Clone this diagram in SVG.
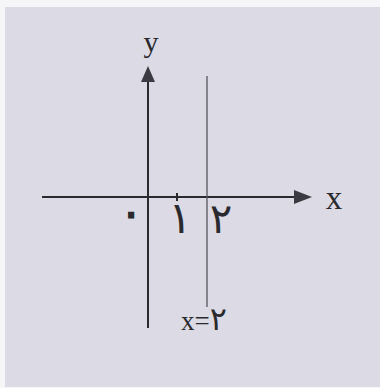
<svg xmlns="http://www.w3.org/2000/svg" width="380" height="388" viewBox="0 0 380 388">
<style>
.ax{stroke:#2a2a2e;stroke-width:2;fill:none}
.ln{stroke:#55555c;stroke-width:1.3;fill:none}
.t{font-family:"Liberation Serif","DejaVu Serif",serif;fill:#2a2a2e}
.ar{font-family:"DejaVu Sans","Noto Sans",sans-serif;fill:#2a2a2e}
</style>
<rect width="380" height="388" fill="#f6f6f8"/>
<rect x="5" y="7" width="375" height="380" fill="#dcdbe5"/>
<g id="connectors">
<line class="ax" x1="148" y1="328" x2="148" y2="82"/>
<path d="M148,66 L155,82 L141,82 Z" fill="#3a3a40"/>
<line class="ax" x1="42" y1="197" x2="295" y2="197"/>
<path d="M312,197 L294,190 L294,204 Z" fill="#3a3a40"/>
<line class="ln" x1="207" y1="76" x2="207" y2="307"/>
<line class="ax" x1="177" y1="193" x2="177" y2="201"/>
</g>
<g id="label-y"><text class="t" x="151" y="52" font-size="30" text-anchor="middle">y</text></g>
<g id="label-x"><text class="t" x="334" y="209" font-size="33" text-anchor="middle">x</text></g>
<g id="label-0"><text class="ar" x="131" y="228" font-size="46" text-anchor="middle" fill="none" stroke="#2a2a2e" stroke-width="1.2">٠</text></g>
<g id="label-1"><text class="ar" x="180" y="233" font-size="44" text-anchor="middle">١</text></g>
<g id="label-2"><text class="ar" x="221" y="233" font-size="42" text-anchor="middle">٢</text></g>
<g id="label-line"><text class="t" x="204" y="330" font-size="27" text-anchor="middle" fill="#55555c">x=<tspan class="ar" font-size="32" fill="#55555c">٢</tspan></text></g>
</svg>
